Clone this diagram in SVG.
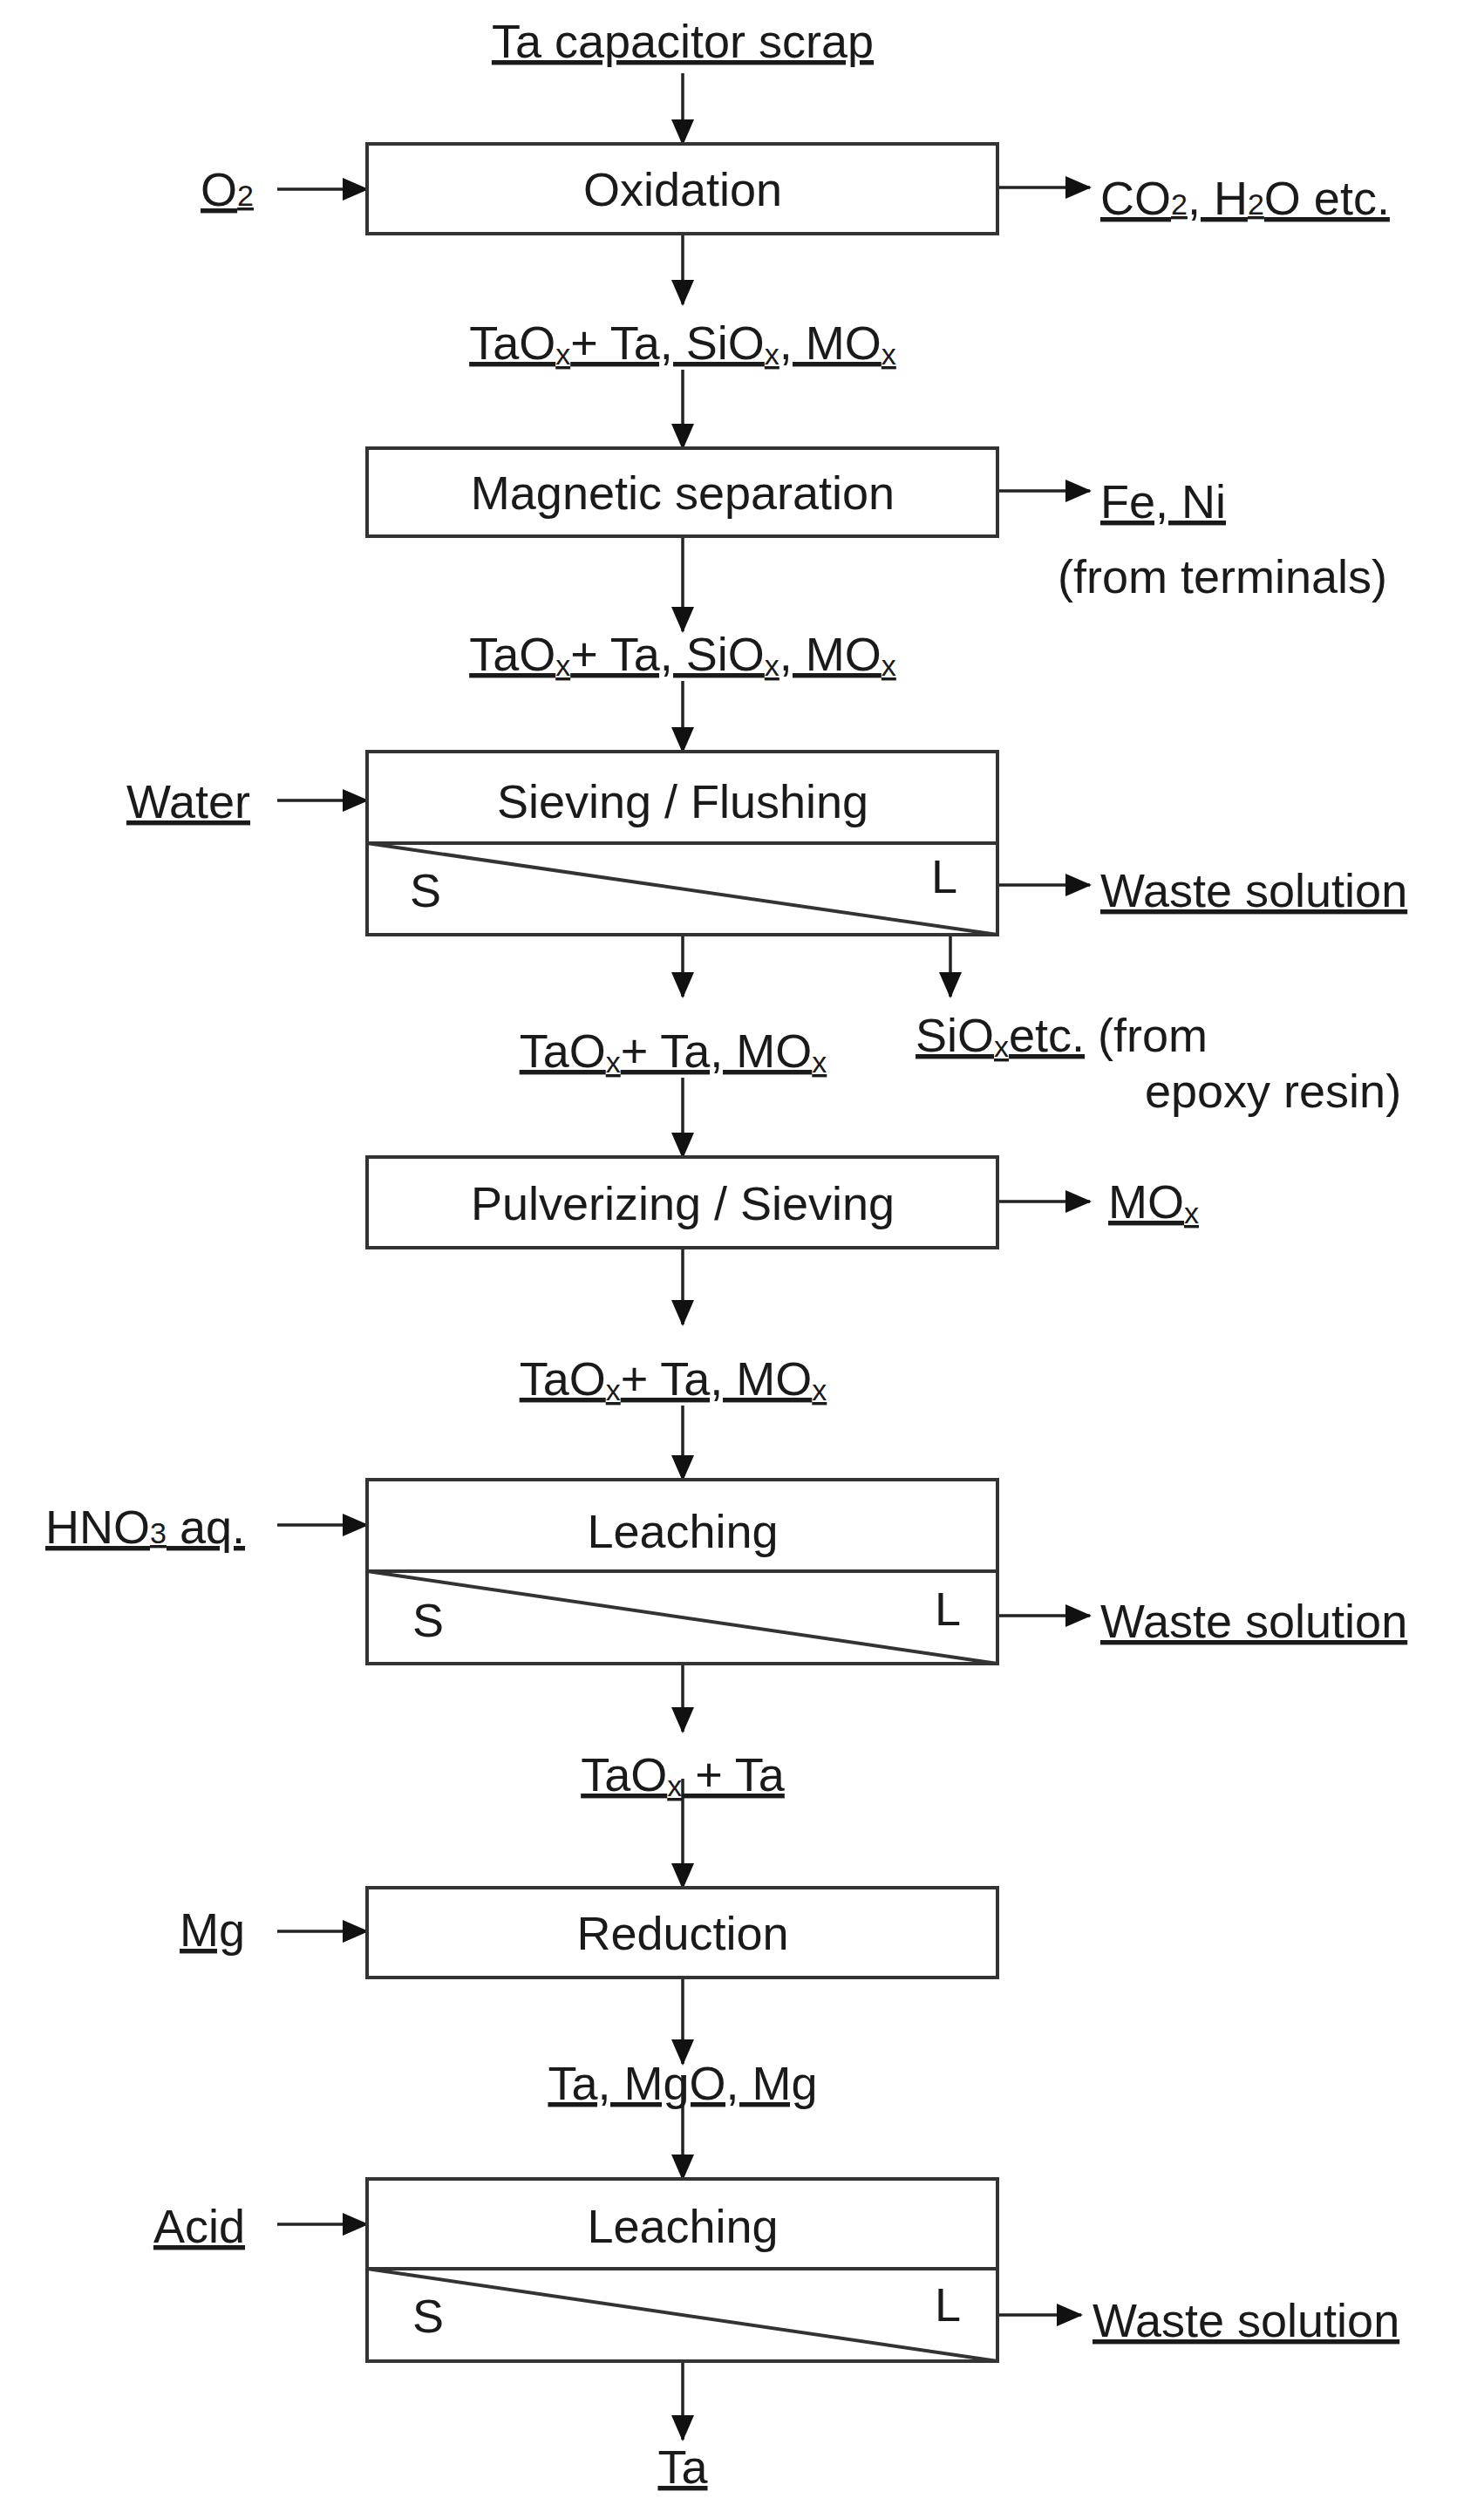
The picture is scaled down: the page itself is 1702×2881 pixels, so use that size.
<svg xmlns="http://www.w3.org/2000/svg" width="1702" height="2881" viewBox="0 0 1702 2881">
<style>
text{font-family:"Liberation Sans",Arial,sans-serif;font-size:54px;fill:#1a1a1a}
.u{text-decoration:underline}
.m{text-anchor:middle}
.e{text-anchor:end}
.s{font-size:34px}
rect,.ln{fill:#fff;stroke:#333;stroke-width:4}
.c line,.c path{stroke:#222;stroke-width:3.5;fill:none}
</style>
<defs>
<marker id="a" markerUnits="userSpaceOnUse" markerWidth="30" markerHeight="26" refX="28" refY="13" orient="auto"><path d="M0,0 L30,13 L0,26 Z" fill="#111"/></marker>
</defs>
<rect width="1702" height="2881" fill="#fff" style="stroke:none"/>
<g id="connectors" class="c">
<line x1="783" y1="84" x2="783" y2="165" marker-end="url(#a)"/>
<line x1="318" y1="217" x2="421" y2="217" marker-end="url(#a)"/>
<line x1="1144" y1="215" x2="1250" y2="215" marker-end="url(#a)"/>
<line x1="783" y1="268" x2="783" y2="349" marker-end="url(#a)"/>
<line x1="783" y1="424" x2="783" y2="514" marker-end="url(#a)"/>
<line x1="1144" y1="563" x2="1250" y2="563" marker-end="url(#a)"/>
<line x1="783" y1="615" x2="783" y2="724" marker-end="url(#a)"/>
<line x1="783" y1="781" x2="783" y2="862" marker-end="url(#a)"/>
<line x1="318" y1="918" x2="421" y2="918" marker-end="url(#a)"/>
<line x1="1144" y1="1015" x2="1250" y2="1015" marker-end="url(#a)"/>
<line x1="783" y1="1072" x2="783" y2="1143" marker-end="url(#a)"/>
<line x1="1090" y1="1072" x2="1090" y2="1143" marker-end="url(#a)"/>
<line x1="783" y1="1236" x2="783" y2="1327" marker-end="url(#a)"/>
<line x1="1144" y1="1378" x2="1250" y2="1378" marker-end="url(#a)"/>
<line x1="783" y1="1431" x2="783" y2="1519" marker-end="url(#a)"/>
<line x1="783" y1="1612" x2="783" y2="1697" marker-end="url(#a)"/>
<line x1="318" y1="1749" x2="421" y2="1749" marker-end="url(#a)"/>
<line x1="1144" y1="1853" x2="1250" y2="1853" marker-end="url(#a)"/>
<line x1="783" y1="1908" x2="783" y2="1986" marker-end="url(#a)"/>
<line x1="783" y1="2040" x2="783" y2="2165" marker-end="url(#a)"/>
<line x1="318" y1="2215" x2="421" y2="2215" marker-end="url(#a)"/>
<line x1="783" y1="2268" x2="783" y2="2367" marker-end="url(#a)"/>
<line x1="783" y1="2380" x2="783" y2="2499" marker-end="url(#a)"/>
<line x1="318" y1="2551" x2="421" y2="2551" marker-end="url(#a)"/>
<line x1="1144" y1="2655" x2="1240" y2="2655" marker-end="url(#a)"/>
<line x1="783" y1="2708" x2="783" y2="2798" marker-end="url(#a)"/>
</g>
<g id="n-oxidation"><rect x="421" y="165" width="723" height="103"/><text x="783" y="236" class="m">Oxidation</text></g>
<g id="n-magnetic"><rect x="421" y="514" width="723" height="101"/><text x="783" y="584" class="m">Magnetic separation</text></g>
<g id="n-sieving"><rect x="421" y="862" width="723" height="210"/><line class="ln" x1="421" y1="967" x2="1144" y2="967"/><line class="ln" x1="421" y1="967" x2="1144" y2="1072"/><text x="783" y="938" class="m">Sieving / Flushing</text><text x="470" y="1040">S</text><text x="1068" y="1024">L</text></g>
<g id="n-pulverizing"><rect x="421" y="1327" width="723" height="104"/><text x="783" y="1399" class="m">Pulverizing / Sieving</text></g>
<g id="n-leaching1"><rect x="421" y="1697" width="723" height="211"/><line class="ln" x1="421" y1="1802" x2="1144" y2="1802"/><line class="ln" x1="421" y1="1802" x2="1144" y2="1908"/><text x="783" y="1775" class="m">Leaching</text><text x="473" y="1877">S</text><text x="1072" y="1864">L</text></g>
<g id="n-reduction"><rect x="421" y="2165" width="723" height="103"/><text x="783" y="2236" class="m">Reduction</text></g>
<g id="n-leaching2"><rect x="421" y="2499" width="723" height="209"/><line class="ln" x1="421" y1="2602" x2="1144" y2="2602"/><line class="ln" x1="421" y1="2602" x2="1144" y2="2708"/><text x="783" y="2572" class="m">Leaching</text><text x="473" y="2675">S</text><text x="1072" y="2662">L</text></g>
<g id="labels">
<text x="783" y="66" class="m u">Ta capacitor scrap</text>
<text x="291" y="236" class="e u">O<tspan class="s">2</tspan></text>
<text x="1262" y="246" class="u">CO<tspan class="s">2</tspan>, H<tspan class="s">2</tspan>O etc.</text>
<text x="783" y="412" class="m u">TaO<tspan class="s" dy="6">x</tspan><tspan dy="-6">+ Ta, SiO</tspan><tspan class="s" dy="6">x</tspan><tspan dy="-6">, MO</tspan><tspan class="s" dy="6">x</tspan></text>
<text x="1262" y="594" class="u">Fe, Ni</text>
<text x="1213" y="680">(from terminals)</text>
<text x="783" y="769" class="m u">TaO<tspan class="s" dy="6">x</tspan><tspan dy="-6">+ Ta, SiO</tspan><tspan class="s" dy="6">x</tspan><tspan dy="-6">, MO</tspan><tspan class="s" dy="6">x</tspan></text>
<text x="287" y="938" class="e u">Water</text>
<text x="1262" y="1040" class="u">Waste solution</text>
<text x="772" y="1224" class="m u">TaO<tspan class="s" dy="6">x</tspan><tspan dy="-6">+ Ta, MO</tspan><tspan class="s" dy="6">x</tspan></text>
<text x="1050" y="1206"><tspan class="u">SiO<tspan class="s" dy="6">x</tspan><tspan dy="-6">etc.</tspan></tspan> (from</text>
<text x="1313" y="1270">epoxy resin)</text>
<text x="1271" y="1397" class="u">MO<tspan class="s" dy="6">x</tspan></text>
<text x="772" y="1600" class="m u">TaO<tspan class="s" dy="6">x</tspan><tspan dy="-6">+ Ta, MO</tspan><tspan class="s" dy="6">x</tspan></text>
<text x="281" y="1770" class="e u">HNO<tspan class="s">3</tspan> aq.</text>
<text x="1262" y="1878" class="u">Waste solution</text>
<text x="783" y="2054" class="m u">TaO<tspan class="s" dy="6">x</tspan><tspan dy="-6"> + Ta</tspan></text>
<text x="281" y="2232" class="e u">Mg</text>
<text x="783" y="2408" class="m u">Ta, MgO, Mg</text>
<text x="281" y="2572" class="e u">Acid</text>
<text x="1253" y="2680" class="u">Waste solution</text>
<text x="783" y="2848" class="m u">Ta</text>
</g>
</svg>
